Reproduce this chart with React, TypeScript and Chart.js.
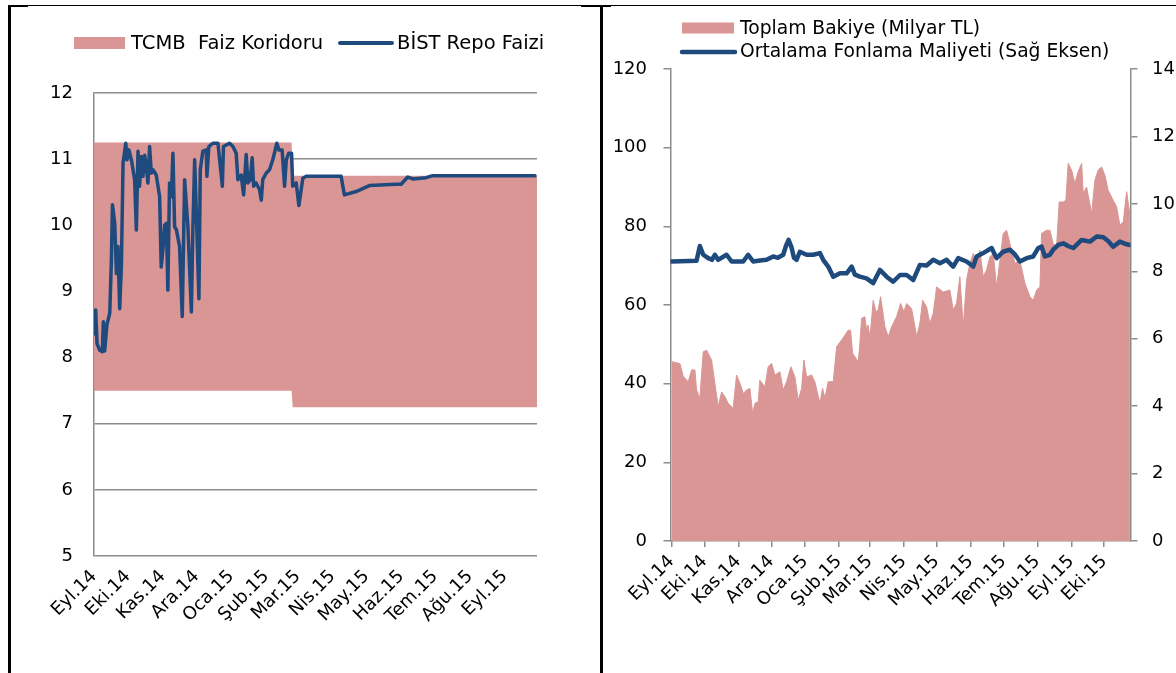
import React, { useEffect, useRef } from "react";
import { Chart, registerables } from "chart.js";

Chart.register(...registerables);

const FONT_FAMILY = "'DejaVu Sans', 'Noto Sans', sans-serif";
const TICK_SIZE = 18;

const PINK = "#D99694";
const BLUE = "#1F4A7E";
const AXIS_GRAY = "#8c8c8c";

// ---------- shared month ticks (days since 1 Sep 2014) ----------
const monthStartDays = [0, 30, 61, 91, 122, 153, 181, 212, 242, 273, 303, 334, 365, 395];
const leftMonthLabels = ["Eyl.14", "Eki.14", "Kas.14", "Ara.14", "Oca.15", "Şub.15", "Mar.15", "Nis.15", "May.15", "Haz.15", "Tem.15", "Ağu.15", "Eyl.15"];
const rightMonthLabels = ["Eyl.14", "Eki.14", "Kas.14", "Ara.14", "Oca.15", "Şub.15", "Mar.15", "Nis.15", "May.15", "Haz.15", "Tem.15", "Ağu.15", "Eyl.15", "Eki.15"];

// ---------- left chart: TCMB corridor & BIST repo ----------
const corridorLabel = "TCMB  Faiz Koridoru";
const repoLabel = "BİST Repo Faizi";
const corridorDays = [0, 175.5, 176.5, 393.5];
const corridorUpper = [11.25, 11.25, 10.75, 10.75];
const corridorLower = [7.5, 7.5, 7.25, 7.25];

const repoDays = [
  0, 1.5, 2.7, 5.1, 7.4, 8.3, 9.5, 11.5, 14, 15.4,
  16.4, 18.4, 19.9, 21.3, 22.8, 24.3, 25.8, 28.2, 29.3, 31,
  33.2, 36.1, 37.6, 39.1, 40.5, 42, 43.5, 45, 46.4, 47.9,
  49.4, 50.9, 52.4, 55.3, 58.3, 59.7, 61.2, 62.7, 64.3, 65.6,
  67.1, 68.7, 70.1, 71.6, 73.2, 76, 78.4, 80.5, 83.4, 86.5,
  87.8, 89.4, 90.9, 93.2, 94.4, 96.7, 99.7, 100.3, 102, 105.6,
  110.1, 114, 115, 120.4, 123.4, 126.3, 127.8, 130.7, 132.9, 135.2,
  136.7, 138.8, 140.5, 141.8, 144, 147, 148.6, 149.9, 153, 155.9,
  158.8, 162.4, 164.2, 167.1, 169.3, 170.8, 173, 175.5, 176.5, 179.6,
  182, 185.5, 188.5, 219.5, 222.4, 232.8, 244.6, 268.3, 272.8, 278.7,
  283.1, 295, 300.8, 391.7,
];
const repoRates = [
  8.36, 8.72, 8.21, 8.11, 8.09, 8.54, 8.1, 8.5, 8.67, 9.45,
  10.31, 10.03, 9.27, 9.68, 8.74, 9.37, 10.94, 11.24, 10.99, 11.14,
  10.99, 10.69, 9.93, 11.12, 10.59, 11.04, 10.74, 11.06, 10.89, 10.64,
  11.19, 10.79, 10.84, 10.76, 10.43, 9.37, 9.63, 10.0, 10.03, 9.02,
  10.64, 10.43, 11.09, 9.98, 9.93, 9.68, 8.62, 10.69, 9.98, 8.69,
  9.93, 10.99, 10.18, 8.89, 10.84, 11.12, 11.14, 10.74, 11.19, 11.24,
  11.24, 10.59, 11.19, 11.24, 11.19, 11.09, 10.69, 10.76, 10.46, 11.07,
  10.64, 10.69, 11.02, 10.59, 10.64, 10.54, 10.38, 10.69, 10.79, 10.84,
  10.99, 11.24, 11.14, 11.14, 10.59, 10.99, 11.09, 11.09, 10.59, 10.64,
  10.3, 10.71, 10.74, 10.74, 10.46, 10.51, 10.6, 10.62, 10.62, 10.73,
  10.7, 10.72, 10.75, 10.75,
];

// ---------- right chart: balance & funding cost ----------
const balanceLabel = "Toplam Bakiye (Milyar TL)";
const costLabel = "Ortalama Fonlama Maliyeti (Sağ Eksen)";
const balanceDays = [
  0, 7.6, 10.6, 15.2, 18.3, 21.3, 22.8, 25.8, 28.9, 32,
  36.5, 39.5, 42.5, 45.7, 48.7, 51.7, 56.2, 59.3, 62.4, 65.4,
  68.5, 71.5, 74, 76.1, 79.1, 80.6, 85.2, 88.2, 91.3, 94.3,
  98.9, 101.9, 105, 108.9, 112.6, 115.6, 118.7, 120.8, 123.3, 127.8,
  130.8, 135.4, 137.9, 140, 143, 147.6, 150.7, 155.2, 158.2, 161.2,
  163.4, 165.3, 170.4, 171.9, 173.5, 176.5, 178, 179.5, 181.1, 184.1,
  186.5, 188.6, 190.8, 194.8, 197.8, 200.9, 205.4, 209.1, 212.1, 214.6,
  219.1, 222.2, 223.7, 226.7, 229.2, 232.8, 235.8, 238.9, 242, 248,
  254.1, 257.1, 260.2, 263.2, 266.3, 269.3, 272.4, 275.4, 278.5, 281.5,
  284.5, 287.6, 290.6, 293.7, 296.7, 299.8, 302.8, 305.9, 308.9, 313.5,
  318, 322.6, 327.2, 330.2, 333.3, 336.3, 337.8, 342.4, 345.4, 348.4,
  351.5, 353.9, 357.6, 360, 362.1, 365.2, 368.2, 371.3, 374.4, 375.8,
  378.9, 383.5, 386.5, 389.5, 392.6, 395.6, 398.6, 403.2, 406.3, 409.3,
  412.4, 415.5, 418.5,
];
const balanceValues = [
  45.6, 45.1, 41.9, 40.5, 43.5, 43.5, 38.4, 36.3, 48.1, 48.5,
  46.0, 40.1, 34.2, 37.9, 36.7, 35.0, 33.7, 42.2, 40.1, 37.5,
  38.4, 38.8, 32.4, 35.0, 35.4, 40.9, 39.2, 44.3, 45.2, 42.2,
  43.0, 38.4, 40.5, 44.3, 41.7, 35.8, 38.8, 46.0, 41.7, 42.2,
  40.5, 35.0, 38.8, 36.3, 40.5, 40.5, 49.4, 51.1, 52.3, 53.6,
  53.6, 47.7, 45.6, 50.2, 56.6, 57.0, 53.6, 54.9, 51.5, 61.2,
  58.3, 58.7, 62.1, 54.5, 51.9, 54.5, 57.0, 60.4, 58.3, 60.4,
  59.1, 54.5, 51.9, 55.3, 61.2, 59.5, 55.3, 57.9, 64.6, 63.3,
  63.8, 58.7, 60.4, 67.2, 54.5, 66.3, 70.6, 73.1, 70.6, 73.9,
  67.2, 68.9, 72.2, 73.1, 64.6, 71.4, 78.2, 79.0, 75.6, 70.6,
  71.4, 65.5, 62.1, 61.2, 63.8, 64.6, 78.2, 79.0, 79.0, 75.6,
  74.8, 86.2, 86.2, 86.6, 96.0, 94.3, 90.9, 94.0, 96.0, 88.4,
  90.0, 83.3, 91.7, 94.3, 95.1, 93.0, 89.2, 86.6, 85.0, 80.3,
  81.1, 88.8, 82.8,
];
const costDays = [
  0, 22.8, 25.8, 28.9, 33.4, 36.8, 39.5, 42.5, 50.2, 54.8,
  65.4, 69.9, 74.5, 80.6, 86.7, 92.8, 97, 101.9, 104.4, 106.8,
  109.6, 111.7, 114.1, 117.1, 123.3, 129.3, 135.4, 138.4, 143, 147.6,
  153.7, 159.8, 164.4, 167.4, 171.9, 178, 184.1, 190.2, 196.3, 202.3,
  208.5, 214.6, 220.6, 226.7, 232.8, 238.9, 245, 251.1, 257.1, 261.7,
  269.3, 275.4, 278.5, 284.5, 292.2, 296.7, 302.8, 308.9, 313.5, 318,
  324.1, 330.2, 334.7, 337.8, 340.9, 345.4, 348.4, 353, 357.6, 361.9,
  366.7, 374.4, 382, 388.2, 394.2, 398.6, 403.2, 409.3, 415.5, 418.5,
];
const costValues = [
  8.29, 8.31, 8.75, 8.49, 8.39, 8.34, 8.49, 8.34, 8.49, 8.29,
  8.29, 8.49, 8.29, 8.32, 8.34, 8.44, 8.4, 8.49, 8.75, 8.93,
  8.7, 8.4, 8.34, 8.58, 8.49, 8.49, 8.54, 8.34, 8.14, 7.84,
  7.94, 7.94, 8.14, 7.9, 7.84, 7.79, 7.65, 8.04, 7.84, 7.69,
  7.89, 7.89, 7.74, 8.19, 8.17, 8.34, 8.24, 8.34, 8.14, 8.39,
  8.29, 8.14, 8.44, 8.54, 8.69, 8.39, 8.58, 8.64, 8.5, 8.29,
  8.39, 8.44, 8.69, 8.73, 8.44, 8.49, 8.64, 8.78, 8.83, 8.75,
  8.69, 8.93, 8.88, 9.03, 9.01, 8.9, 8.73, 8.88, 8.8, 8.78,
];

// ---------- helpers ----------
const pts = (xs: number[], ys: number[]) => xs.map((x, i) => ({ x, y: ys[i] }));

type LegendSpec = {
  datasetIndex: number;
  kind: "box" | "line";
  x: number;
  y: number;
  w: number;
  h: number;
  textX: number;
  textY: number;
};

function makeLegendPlugin(items: LegendSpec[], fontSize: number) {
  return {
    id: "customLegend",
    afterDraw(chart: any) {
      const ctx = chart.ctx as CanvasRenderingContext2D;
      ctx.save();
      ctx.font = `${fontSize}px ${FONT_FAMILY}`;
      ctx.textBaseline = "middle";
      ctx.textAlign = "left";
      items.forEach((it) => {
        const ds = chart.data.datasets[it.datasetIndex];
        if (it.kind === "box") {
          ctx.fillStyle = ds.backgroundColor;
          ctx.fillRect(it.x, it.y - it.h / 2, it.w, it.h);
        } else {
          ctx.strokeStyle = ds.borderColor;
          ctx.lineWidth = it.h;
          ctx.lineCap = "round";
          ctx.beginPath();
          ctx.moveTo(it.x, it.y);
          ctx.lineTo(it.x + it.w, it.y);
          ctx.stroke();
        }
        ctx.fillStyle = "#000";
        ctx.fillText(ds.label, it.textX, it.textY);
      });
      ctx.restore();
    },
  };
}

const tickFont = { family: FONT_FAMILY, size: TICK_SIZE };

function leftConfig(): any {
  return {
    type: "line",
    data: {
      datasets: [
        {
          label: "corridor-lower",
          data: pts(corridorDays, corridorLower),
          borderWidth: 0,
          borderColor: "rgba(0,0,0,0)",
          pointRadius: 0,
          fill: false,
          order: 3,
        },
        {
          label: corridorLabel,
          data: pts(corridorDays, corridorUpper),
          borderWidth: 0,
          borderColor: "rgba(0,0,0,0)",
          backgroundColor: PINK,
          pointRadius: 0,
          fill: "-1",
          order: 2,
        },
        {
          label: repoLabel,
          data: pts(repoDays, repoRates),
          borderColor: BLUE,
          borderWidth: 3.5,
          borderJoinStyle: "round",
          borderCapStyle: "round",
          pointRadius: 0,
          fill: false,
          order: 1,
        },
      ],
    },
    options: {
      animation: false,
      responsive: false,
      devicePixelRatio: 1,
      events: [],
      elements: { line: { tension: 0 }, point: { radius: 0 } },
      layout: { padding: { top: 86, right: 63, left: 0, bottom: 0 } },
      plugins: { legend: { display: false }, tooltip: { enabled: false } },
      scales: {
        x: {
          type: "linear",
          min: 0,
          max: 393.5,
          afterBuildTicks: (s: any) => {
            s.ticks = monthStartDays.slice(0, leftMonthLabels.length).map((v) => ({ value: v }));
          },
          afterFit: (s: any) => {
            s.height = 117;
          },
          grid: { display: false, drawTicks: false },
          border: { display: false },
          ticks: {
            autoSkip: false,
            maxRotation: 45,
            minRotation: 45,
            padding: 10,
            color: "#000",
            font: tickFont,
            callback: (_v: any, i: number) => leftMonthLabels[i],
          },
        },
        y: {
          min: 5,
          max: 12,
          afterFit: (s: any) => {
            s.width = 83;
          },
          ticks: { stepSize: 1, padding: 21, color: "#000", font: tickFont },
          grid: { color: AXIS_GRAY, lineWidth: 1.5, drawTicks: false },
          border: { color: AXIS_GRAY, width: 1.5 },
        },
      },
    },
    plugins: [
      makeLegendPlugin(
        [
          { datasetIndex: 1, kind: "box", x: 63, y: 36, w: 51, h: 12, textX: 120, textY: 37 },
          { datasetIndex: 2, kind: "line", x: 329, y: 36, w: 52, h: 4, textX: 386, textY: 37 },
        ],
        19.5
      ),
    ],
  };
}

function rightConfig(): any {
  return {
    type: "line",
    data: {
      datasets: [
        {
          label: balanceLabel,
          data: pts(balanceDays, balanceValues),
          yAxisID: "y",
          borderColor: PINK,
          borderWidth: 1,
          backgroundColor: PINK,
          pointRadius: 0,
          fill: "origin",
          order: 2,
        },
        {
          label: costLabel,
          data: pts(costDays, costValues),
          yAxisID: "y1",
          borderColor: BLUE,
          borderWidth: 4.5,
          borderJoinStyle: "round",
          borderCapStyle: "round",
          pointRadius: 0,
          fill: false,
          order: 1,
        },
      ],
    },
    options: {
      animation: false,
      responsive: false,
      devicePixelRatio: 1,
      events: [],
      elements: { line: { tension: 0 }, point: { radius: 0 } },
      layout: { padding: { top: 62, right: 0, left: 0, bottom: 0 } },
      plugins: { legend: { display: false }, tooltip: { enabled: false } },
      scales: {
        x: {
          type: "linear",
          min: -1,
          max: 419,
          afterBuildTicks: (s: any) => {
            s.ticks = monthStartDays.slice(0, rightMonthLabels.length).map((v) => ({ value: v }));
          },
          afterFit: (s: any) => {
            s.height = 132;
          },
          grid: { display: true, drawOnChartArea: false, drawTicks: true, tickLength: 6, color: AXIS_GRAY, lineWidth: 1.5 },
          border: { color: AXIS_GRAY, width: 1.5 },
          ticks: {
            autoSkip: false,
            maxRotation: 45,
            minRotation: 45,
            padding: 4,
            color: "#000",
            font: tickFont,
            callback: (_v: any, i: number) => rightMonthLabels[i],
          },
        },
        y: {
          position: "left",
          min: 0,
          max: 120,
          afterFit: (s: any) => {
            s.width = 67.5;
          },
          ticks: { stepSize: 20, padding: 16.5, color: "#000", font: tickFont },
          grid: { drawOnChartArea: false, tickLength: 7, color: AXIS_GRAY, lineWidth: 1.5 },
          border: { color: AXIS_GRAY, width: 1.5 },
        },
        y1: {
          position: "right",
          min: 0,
          max: 14,
          afterFit: (s: any) => {
            s.width = 45.5;
          },
          ticks: { stepSize: 2, padding: 14.5, color: "#000", font: tickFont },
          grid: { drawOnChartArea: false, tickLength: 7, color: AXIS_GRAY, lineWidth: 1.5 },
          border: { color: AXIS_GRAY, width: 1.5 },
        },
      },
    },
    plugins: [
      makeLegendPlugin(
        [
          { datasetIndex: 0, kind: "box", x: 79, y: 21, w: 52, h: 11, textX: 137, textY: 22 },
          { datasetIndex: 1, kind: "line", x: 79, y: 45, w: 53, h: 4.5, textX: 137, textY: 45 },
        ],
        18.7
      ),
    ],
  };
}

export default function App() {
  const leftRef = useRef<HTMLCanvasElement | null>(null);
  const rightRef = useRef<HTMLCanvasElement | null>(null);

  useEffect(() => {
    const c1 = new Chart(leftRef.current as HTMLCanvasElement, leftConfig());
    const c2 = new Chart(rightRef.current as HTMLCanvasElement, rightConfig());
    return () => {
      c1.destroy();
      c2.destroy();
    };
  }, []);

  const line = (left: number, top: number, width: number, height: number) => (
    <div style={{ position: "absolute", left, top, width, height, background: "#000" }} />
  );

  return (
    <div style={{ position: "absolute", left: 0, top: 0, width: 1176, height: 673, overflow: "hidden", background: "#fff" }}>
      <canvas ref={leftRef} width={589} height={666} style={{ position: "absolute", left: 11, top: 7, width: 589, height: 666 }} />
      <canvas ref={rightRef} width={573} height={666} style={{ position: "absolute", left: 603, top: 7, width: 573, height: 666 }} />
      {line(8, 5, 1168, 1)}
      {line(8, 5, 20, 2)}
      {line(581, 5, 30, 2)}
      {line(8, 5, 3, 668)}
      {line(600, 5, 2.5, 668)}
    </div>
  );
}
